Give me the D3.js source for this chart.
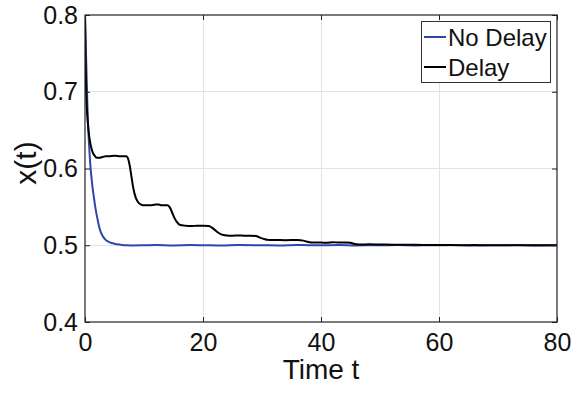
<!DOCTYPE html>
<html>
<head>
<meta charset="utf-8">
<script src="https://cdn.jsdelivr.net/npm/d3@7/dist/d3.min.js"></script>
<style>
  html, body { margin: 0; padding: 0; background: #fff; }
  svg { display: block; font-family: "Liberation Sans", Arial, Helvetica, sans-serif; }
</style>
</head>
<body>
<svg id="chart" width="577" height="398"></svg>
<script>
// Response without delay
const tNoDelay = [0, 0.1, 0.2, 0.3, 0.4, 0.5, 0.7, 0.9, 1.1, 1.3, 1.5, 1.8, 2.1, 2.5, 3, 3.5, 4, 4.5, 5, 6, 7, 8, 10, 12, 15, 18, 20, 23, 26, 30, 33, 36, 40, 43, 46, 50, 53, 56, 60, 63, 66, 70, 73, 76, 80];
const xNoDelay = [0.8, 0.77, 0.74, 0.712, 0.685, 0.66, 0.63, 0.605, 0.588, 0.574, 0.563, 0.547, 0.535, 0.521, 0.512, 0.507, 0.5045, 0.503, 0.502, 0.5008, 0.5, 0.4998, 0.5, 0.5003, 0.4998, 0.5002, 0.5, 0.4997, 0.5003, 0.5, 0.4997, 0.5002, 0.5, 0.5003, 0.4998, 0.5, 0.5002, 0.4998, 0.5, 0.5002, 0.4997, 0.5, 0.5002, 0.4998, 0.5];

// Response with delay
const tDelay = [0, 0.1, 0.2, 0.3, 0.5, 0.7, 0.9, 1.1, 1.3, 1.6, 2, 2.5, 3, 3.5, 4, 5, 6, 7, 7.3, 7.6, 7.9, 8.2, 8.6, 9, 9.5, 10, 11, 12, 12.5, 13, 14, 14.4, 14.8, 15.2, 15.6, 16, 16.5, 17, 18, 19, 20, 21, 21.5, 22, 22.5, 23, 23.5, 24, 25, 26, 27, 28, 29, 29.5, 30, 30.5, 31, 31.5, 32, 34, 36, 37, 37.5, 38, 38.5, 40, 41, 42, 43, 44, 45, 45.5, 46, 47, 48, 50, 52, 54, 56, 58, 60, 62, 64, 66, 68, 70, 72, 74, 76, 78, 80];
const xDelay = [0.8, 0.74, 0.70, 0.68, 0.658, 0.643, 0.633, 0.626, 0.621, 0.617, 0.614, 0.614, 0.615, 0.616, 0.616, 0.6165, 0.616, 0.616, 0.613, 0.603, 0.588, 0.574, 0.562, 0.556, 0.553, 0.552, 0.552, 0.553, 0.553, 0.552, 0.552, 0.549, 0.542, 0.535, 0.53, 0.527, 0.526, 0.5255, 0.525, 0.5255, 0.5255, 0.525, 0.523, 0.52, 0.517, 0.5145, 0.5133, 0.5128, 0.5125, 0.5127, 0.5125, 0.5125, 0.512, 0.5105, 0.509, 0.5078, 0.507, 0.5067, 0.5068, 0.5066, 0.5068, 0.506, 0.5048, 0.504, 0.5035, 0.5035, 0.5033, 0.504, 0.5035, 0.5037, 0.5033, 0.502, 0.5013, 0.501, 0.5012, 0.501, 0.5008, 0.5005, 0.5006, 0.5003, 0.5002, 0.5002, 0.4999, 0.5002, 0.4999, 0.5001, 0.4999, 0.5001, 0.4999, 0.5, 0.4999];

const xTicks = [0, 20, 40, 60, 80];
const yTicks = [0.4, 0.5, 0.6, 0.7, 0.8];
const seriesNames = ["No Delay", "Delay"];

const W = 577, H = 398;
const margin = { left: 85, right: 20, top: 15, bottom: 76 };
const iw = W - margin.left - margin.right;
const ih = H - margin.top - margin.bottom;

const svg = d3.select("#chart");
const g = svg.append("g").attr("transform", `translate(${margin.left},${margin.top})`);

const x = d3.scaleLinear().domain([0, 80]).range([0, iw]);
const y = d3.scaleLinear().domain([0.4, 0.8]).range([ih, 0]);

// grid
g.append("g").selectAll("line.vg").data(xTicks.slice(1, -1)).join("line")
  .attr("x1", d => x(d)).attr("x2", d => x(d)).attr("y1", 0).attr("y2", ih)
  .attr("stroke", "#e3e3e3").attr("stroke-width", 1).attr("shape-rendering", "crispEdges");
g.append("g").selectAll("line.hg").data(yTicks.slice(1, -1)).join("line")
  .attr("x1", 0).attr("x2", iw).attr("y1", d => y(d)).attr("y2", d => y(d))
  .attr("stroke", "#e3e3e3").attr("stroke-width", 1).attr("shape-rendering", "crispEdges");

// lines
svg.append("defs").append("clipPath").attr("id", "plotclip")
  .append("rect").attr("x", 0).attr("y", 0).attr("width", iw).attr("height", ih);

const line = d3.line().x(d => x(d[0])).y(d => y(d[1])).curve(d3.curveMonotoneX);
const plot = g.append("g").attr("clip-path", "url(#plotclip)");
plot.append("path").datum(d3.zip(tNoDelay, xNoDelay))
  .attr("d", line).attr("fill", "none").attr("stroke", "#2f47a8").attr("stroke-width", 2);
plot.append("path").datum(d3.zip(tDelay, xDelay))
  .attr("d", line).attr("fill", "none").attr("stroke", "#000").attr("stroke-width", 2);

// axes (ticks inward, boxed)
const tickLen = 5;
const axStyle = sel => {
  sel.select(".domain").remove();
  sel.selectAll(".tick line").attr("stroke", "#222");
  sel.selectAll(".tick text").attr("fill", "#111").style("font-size", "25px")
     .style("font-family", '"Liberation Sans", Arial, sans-serif');
};
g.append("g").attr("transform", `translate(0,${ih})`)
  .call(d3.axisBottom(x).tickValues(xTicks).tickSizeInner(-tickLen).tickSizeOuter(0).tickPadding(11))
  .call(axStyle);
g.append("g")
  .call(d3.axisLeft(y).tickValues(yTicks).tickFormat(d3.format(".1f")).tickSizeInner(-tickLen).tickSizeOuter(0).tickPadding(7))
  .call(axStyle);
g.append("g")
  .call(d3.axisTop(x).tickValues(xTicks).tickSizeInner(-tickLen).tickSizeOuter(0).tickFormat(""))
  .call(axStyle);
g.append("g").attr("transform", `translate(${iw},0)`)
  .call(d3.axisRight(y).tickValues(yTicks).tickSizeInner(-tickLen).tickSizeOuter(0).tickFormat(""))
  .call(axStyle);

g.append("rect").attr("x", 0).attr("y", 0).attr("width", iw).attr("height", ih)
  .attr("fill", "none").attr("stroke", "#222").attr("stroke-width", 1.2);

// axis labels
svg.append("text").attr("x", margin.left + iw / 2).attr("y", 379)
  .attr("text-anchor", "middle").style("font-size", "28px").attr("fill", "#111").text("Time t");
svg.append("text").attr("transform", `translate(36,163) rotate(-90)`)
  .attr("text-anchor", "middle").style("font-size", "30px").attr("fill", "#111").text("x(t)");

// legend
const lg = svg.append("g");
lg.append("rect").attr("x", 421.5).attr("y", 21.5).attr("width", 129).attr("height", 61)
  .attr("fill", "#fff").attr("stroke", "#333").attr("stroke-width", 1);
const legendColors = ["#2f47a8", "#000"];
seriesNames.forEach((name, i) => {
  const cy = 37 + i * 30;
  lg.append("line").attr("x1", 424).attr("x2", 446).attr("y1", cy).attr("y2", cy)
    .attr("stroke", legendColors[i]).attr("stroke-width", 2);
  lg.append("text").attr("x", 448).attr("y", cy).attr("dy", "0.36em")
    .style("font-size", "24px").attr("fill", "#111").text(name);
});
</script>
</body>
</html>
